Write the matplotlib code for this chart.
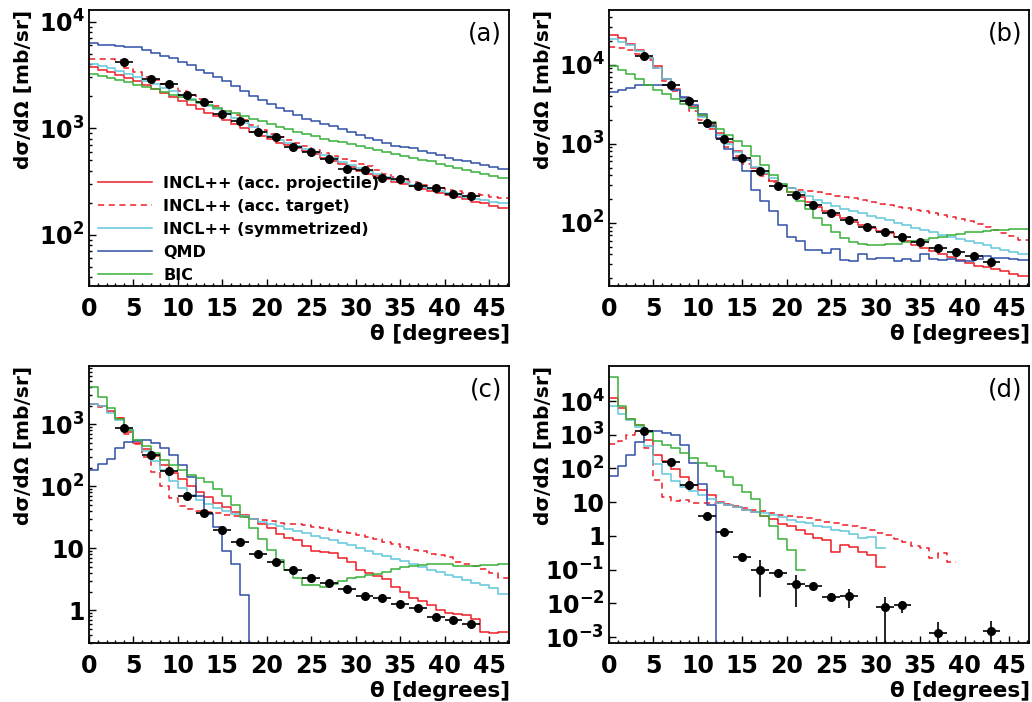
import numpy as np
import matplotlib
matplotlib.use("Agg")
import matplotlib.pyplot as plt
from matplotlib.ticker import FixedLocator, FixedFormatter, LogLocator, MultipleLocator, NullFormatter

plt.rcParams["font.family"] = "DejaVu Sans"
plt.rcParams["font.weight"] = "bold"
plt.rcParams["mathtext.fontset"] = "dejavusans"
plt.rcParams["mathtext.default"] = "bf"

nan = np.nan

# histogram binning (1 degree bins, last one runs to the frame)
edges = np.append(np.arange(47), 47.25)

# experimental angles (degrees)
theta_exp = [4, 7, 9, 11, 13, 15, 17, 19, 21, 23, 25, 27, 29, 31, 33, 35, 37, 39, 41, 43]
theta_exp_d = [4, 7, 9, 11, 13, 15, 17, 19, 21, 23, 25, 27, 31, 33, 37, 43]

# ---- panel (a)
a_exp = [4220, 2890, 2610, 2050, 1775, 1350, 1160, 925, 820, 670,
         595, 512, 414, 405, 343, 335, 285, 275, 240, 229]
a_proj = [3750, 3550, 3350, 3150, 2950, 2750, 2550, 2350, 2150, 1980,
          1800, 1650, 1520, 1400, 1290, 1190, 1100, 1000, 920, 850,
          790, 730, 690, 650, 610, 570, 530, 495, 460, 430,
          400, 375, 355, 335, 315, 300, 285, 270, 255, 245,
          235, 225, 215, 205, 197, 188, 180]
a_targ = [4500, 4500, 4450, 4400, 3700, 3400, 3050, 2850, 2600, 2450,
          2250, 2050, 1900, 1770, 1600, 1450, 1320, 1190, 1070, 960,
          880, 830, 770, 720, 680, 630, 590, 550, 510, 490,
          465, 440, 405, 375, 350, 325, 310, 295, 285, 275,
          265, 255, 248, 240, 235, 228, 222]
a_sym = [4050, 3850, 3650, 3450, 3250, 3000, 2800, 2600, 2400, 2230,
         2050, 1900, 1750, 1620, 1500, 1380, 1250, 1120, 1020, 930,
         850, 780, 730, 680, 640, 600, 560, 520, 485, 450,
         420, 395, 370, 345, 325, 310, 295, 282, 270, 258,
         247, 236, 226, 217, 210, 203, 197]
a_qmd = [6300, 6100, 6000, 5900, 5800, 5750, 5400, 5100, 4800, 4550,
         4200, 3900, 3550, 3300, 3000, 2780, 2500, 2250, 2000, 1830,
         1680, 1560, 1440, 1320, 1230, 1160, 1100, 1060, 990, 920,
         860, 810, 770, 720, 680, 670, 650, 610, 585, 560,
         530, 505, 490, 470, 450, 430, 410]
a_bic = [3210, 3080, 2940, 2820, 2690, 2565, 2445, 2320, 2190, 2070,
         1950, 1840, 1740, 1640, 1550, 1465, 1380, 1300, 1230, 1160,
         1100, 1035, 977, 922, 880, 838, 798, 764, 735, 706,
         679, 653, 627, 597, 569, 547, 526, 506, 488, 466,
         444, 423, 403, 386, 372, 357, 341]

# ---- panel (b)
b_exp = [12700, 5530, 3510, 1815, 1165, 663, 454, 297, 224, 168,
         132, 108, 89, 76, 67, 58, 49, 43, 38, 32]
b_proj = [24000, 22000, 18000, 15500, 12200, 9500, 6500, 4900, 3800, 2900,
          2250, 1750, 1350, 1050, 800, 620, 500, 410, 340, 290,
          245, 215, 183, 158, 140, 125, 114, 104, 94, 86,
          80, 74, 66, 59, 53, 48, 44, 41, 37, 34.5,
          31.5, 29, 27.5, 26, 24.5, 23, 21.5]
b_targ = [16500, 16000, 15500, 13500, 11500, 9000, 6200, 4700, 3500, 2600,
          2000, 1550, 1200, 900, 700, 560, 460, 390, 330, 295,
          275, 262, 252, 243, 232, 222, 212, 205, 195, 185,
          176, 169, 161, 153, 146, 140, 133, 127, 120, 113,
          105, 97, 90, 82, 75, 68, 61]
b_sym = [21000, 19500, 17500, 15000, 12000, 9000, 6500, 4800, 3700, 2800,
         2150, 1650, 1300, 1000, 780, 620, 510, 430, 365, 315,
         275, 245, 220, 195, 180, 165, 152, 142, 133, 124,
         116, 109, 101, 94, 87, 82, 76, 71, 67, 63,
         59, 56, 52, 49, 46, 43, 40]
b_qmd = [4500, 4850, 5000, 5500, 5600, 5550, 5450, 4800, 3900, 3100,
         2400, 1700, 1200, 850, 620, 450, 260, 190, 140, 95,
         66, 59, 46, 46, 42, 47, 34, 33, 40, 35,
         36, 36, 33, 35, 33, 40, 35, 34, 35, 33,
         33, 35, 38, 36, 36, 35, 34]
b_bic = [9500, 8600, 7700, 6500, 5500, 4800, 4200, 3700, 3200, 2800,
         2300, 1900, 1550, 1300, 1100, 930, 700, 540, 400, 310,
         245, 190, 150, 115, 95, 76, 64, 58, 54, 53,
         53, 54, 55, 57, 59, 61, 64, 67, 70, 73,
         76, 78, 80, 81, 82, 83, 84]

# ---- panel (c)
c_exp = [883, 324, 173, 70, 37.6, 19.8, 12.4, 8.2, 6.0, 4.4,
         3.3, 2.8, 2.2, 1.68, 1.56, 1.28, 1.08, 0.77, 0.70, 0.59]
c_proj = [2150, 1950, 1650, 1250, 750, 500, 400, 310, 220, 165,
          130, 100, 80, 66, 54, 46, 39, 34, 30, 25,
          21, 17, 14.5, 13.6, 11, 9, 8.7, 8.3, 7, 6,
          4.5, 4, 3.6, 3.2, 2.4, 2.0, 1.6, 1.4, 1.2, 1.0,
          0.9, 0.88, 0.84, 0.72, 0.45, 0.43, 0.45]
c_targ = [2150, 1900, 1600, 1250, 700, 480, 300, 170, 100, 65,
          48, 43, 40, 38, 36.5, 35, 33.5, 32, 30, 28.5,
          27.5, 26, 25, 24.7, 23.5, 22.3, 21, 20, 18.5, 17.5,
          16.5, 15.4, 14, 12.8, 11.5, 10.6, 9.5, 8.9, 8.2, 7.8,
          7.3, 6.1, 5.6, 5.1, 4.6, 4.0, 3.3]
c_sym = [2100, 1950, 1500, 1150, 800, 560, 370, 260, 180, 120,
         92, 72, 60, 51, 44, 40, 36, 33, 30, 27,
         24.5, 22.5, 20.5, 19, 17.5, 16, 14.5, 13.5, 12.3, 11.2,
         10, 9, 8.2, 7.5, 6.8, 6.2, 5.5, 5, 4.5, 4.1,
         3.7, 3.4, 3.1, 2.8, 2.6, 2.3, 1.8]
c_qmd = [180, 230, 280, 420, 510, 540, 555, 500, 420, 320,
         220, 140, 70, 36, 22, 9, 5.5, 1.77, 0, 0,
         0, 0, 0, 0, 0, 0, 0, 0, 0, 0,
         0, 0, 0, 0, 0, 0, 0, 0, 0, 0,
         0, 0, 0, 0, 0, 0, 0]
c_bic = [4000, 2800, 1800, 1200, 800, 560, 450, 350, 270, 220,
         180, 150, 135, 115, 90, 70, 50, 32, 21, 14,
         9.5, 6.5, 4.5, 3.3, 2.6, 2.6, 2.4, 2.7, 3.0, 3.3,
         3.5, 3.7, 3.9, 4.1, 4.6, 5.0, 5.2, 5.4, 5.5, 5.6,
         5.5, 5.2, 5.1, 5.2, 5.3, 5.4, 5.6]

# ---- panel (d)
d_exp = [1290, 151, 32, 3.9, 1.33, 0.24, 0.10, 0.080, 0.037, 0.033,
         0.0156, 0.0167, 0.0079, 0.0089, 0.00134, 0.0015]
d_exp_lo = [1200, 140, 29, 3.5, 1.2, 0.21, 0.015, 0.072, 0.0076, 0.029,
            0.0119, 0.0072, 1e-5, 0.0053, 1e-5, 1e-5]
d_exp_hi = [1380, 162, 35, 4.3, 1.45, 0.27, 0.19, 0.089, 0.069, 0.037,
            0.0199, 0.026, 0.0155, 0.0119, 0.0027, 0.0029]
d_proj = [12000, 6000, 3000, 1900, 700, 250, 165, 95, 55, 33,
          23, 16, 10, 8.5, 7, 6, 5, 4, 3.2, 2.3,
          1.9, 1.5, 1.1, 0.84, 0.75, 0.33, 0.55, 0.48, 0.34, 0.27,
          0.116, nan, nan, nan, nan, nan, nan, nan, nan, nan,
          nan, nan, nan, nan, nan, nan, nan]
d_targ = [530, 650, 1000, 1300, 400, 45, 14, 11, 11.5, 9.3,
          9.2, 9.5, 9.3, 8.6, 7.6, 6.8, 6.0, 5.3, 4.7, 4.3,
          3.9, 3.6, 3.3, 2.9, 2.6, 2.4, 2.1, 1.9, 1.7, 1.5,
          1.25, 1.05, 0.8, 0.65, 0.5, 0.43, 0.22, 0.32, 0.17, nan,
          nan, nan, nan, nan, nan, nan, nan]
d_sym = [7000, 4200, 2700, 1700, 450, 140, 70, 42, 29, 21,
         16, 12, 9.6, 8.2, 7, 6, 5.2, 4.8, 4.3, 3.7,
         3, 2.5, 2.35, 2.0, 1.8, 1.5, 1.35, 1.15, 0.84, 0.9,
         0.45, nan, nan, nan, nan, nan, nan, nan, nan, nan,
         nan, nan, nan, nan, nan, nan, nan]
d_qmd = [60, 120, 250, 600, 1250, 1280, 1150, 950, 500, 150,
         35, 8, 0, 0, 0, 0, 0, 0, 0, 0,
         0, 0, 0, 0, 0, 0, 0, 0, 0, 0,
         0, 0, 0, 0, 0, 0, 0, 0, 0, 0,
         0, 0, 0, 0, 0, 0, 0]
d_bic = [50000, 7000, 3000, 2000, 1200, 650, 500, 400, 290, 200,
         150, 115, 85, 55, 33, 20, 12, 4, 1.9, 0.8,
         0.37, 0.1, nan, nan, nan, nan, nan, nan, nan, nan,
         nan, nan, nan, nan, nan, nan, nan, nan, nan, nan,
         nan, nan, nan, nan, nan, nan, nan]

labels = ["INCL++ (acc. projectile)", "INCL++ (acc. target)",
          "INCL++ (symmetrized)", "QMD", "BIC"]
colors = ["#ee1c24", "#ee1c24", "#62c6dc", "#2f4fa8", "#38b038"]
styles = ["-", (0, (4, 3)), "-", "-", "-"]

ylims = {"a": (33, 12900), "b": (16, 49000), "c": (0.3, 8600), "d": (6.8e-4, 1.07e5)}
yticks = {"a": [1e2, 1e3, 1e4], "b": [1e2, 1e3, 1e4], "c": [1, 10, 1e2, 1e3],
          "d": [1e-3, 1e-2, 1e-1, 1, 10, 1e2, 1e3, 1e4]}
yticklabels = {"a": ["$10^{2}$", "$10^{3}$", "$10^{4}$"],
               "b": ["$10^{2}$", "$10^{3}$", "$10^{4}$"],
               "c": ["1", "10", "$10^{2}$", "$10^{3}$"],
               "d": ["$10^{-3}$", "$10^{-2}$", "$10^{-1}$", "1", "10",
                     "$10^{2}$", "$10^{3}$", "$10^{4}$"]}

fig = plt.figure(figsize=(10.32, 7.02), dpi=100)
rects = {"a": [0.0860, 0.5926, 0.4073, 0.3932], "b": [0.5898, 0.5926, 0.4076, 0.3932],
         "c": [0.0860, 0.0845, 0.4073, 0.3937], "d": [0.5898, 0.0845, 0.4076, 0.3937]}


def draw_panel(tag, models, x_exp, y_exp, yerr=None):
    ax = fig.add_axes(rects[tag])
    ax.set_yscale("log")
    handles = []
    for vals, lab, col, ls in zip(models, labels, colors, styles):
        yv = list(vals) + [vals[-1]]
        ln, = ax.step(edges, yv, where="post", color=col, ls=ls, lw=1.1, label=lab)
        handles.append(ln)
    ax.errorbar(x_exp, y_exp, xerr=1.0, yerr=yerr, fmt="o", color="k", ms=5.5,
                elinewidth=1.2, capsize=0, zorder=5)
    ax.set_xlim(0, 47.25)
    ax.set_ylim(*ylims[tag])
    ax.xaxis.set_major_locator(MultipleLocator(5))
    ax.xaxis.set_minor_locator(MultipleLocator(1))
    ax.yaxis.set_major_locator(FixedLocator(yticks[tag]))
    ax.yaxis.set_major_formatter(FixedFormatter(yticklabels[tag]))
    ax.yaxis.set_minor_locator(LogLocator(base=10, subs=np.arange(2, 10)))
    ax.yaxis.set_minor_formatter(NullFormatter())
    ax.tick_params(which="both", direction="in", top=False, right=False, labelsize=17)
    ax.tick_params(axis="x", which="major", length=5, width=1, pad=8)
    ax.tick_params(axis="x", which="minor", length=2.5, width=1)
    ax.tick_params(axis="y", which="major", length=5, width=1, pad=3)
    ax.tick_params(axis="y", which="minor", length=2.5, width=1)
    for lab in ax.get_xticklabels() + ax.get_yticklabels():
        lab.set_fontweight("bold")
    for sp in ax.spines.values():
        sp.set_linewidth(1.3)
    ax.set_xlabel("θ [degrees]", fontsize=15.5, fontweight="bold", loc="right")
    ax.xaxis.set_label_coords(1.003, -0.138)
    ax.text(-0.155, 1.0, "dσ/dΩ [mb/sr]", transform=ax.transAxes, rotation=90,
            ha="center", va="top", fontsize=14.5, fontweight="bold")
    ax.text(0.983, 0.915, "(" + tag + ")", transform=ax.transAxes, ha="right",
            va="center", fontsize=17.5, fontweight="normal")
    return ax, handles


ax_a, h = draw_panel("a", [a_proj, a_targ, a_sym, a_qmd, a_bic], theta_exp, a_exp)
ax_a.legend(handles=h, loc="upper left", bbox_to_anchor=(0.022, 0.40), frameon=False,
            fontsize=11.5, handlelength=3.4, handletextpad=0.7, labelspacing=0.5,
            borderpad=0, borderaxespad=0)
draw_panel("b", [b_proj, b_targ, b_sym, b_qmd, b_bic], theta_exp, b_exp)
draw_panel("c", [c_proj, c_targ, c_sym, c_qmd, c_bic], theta_exp, c_exp)
d_err = [np.array(d_exp) - np.array(d_exp_lo), np.array(d_exp_hi) - np.array(d_exp)]
draw_panel("d", [d_proj, d_targ, d_sym, d_qmd, d_bic], theta_exp_d, d_exp, yerr=d_err)

fig.savefig("out.png", dpi=100)
